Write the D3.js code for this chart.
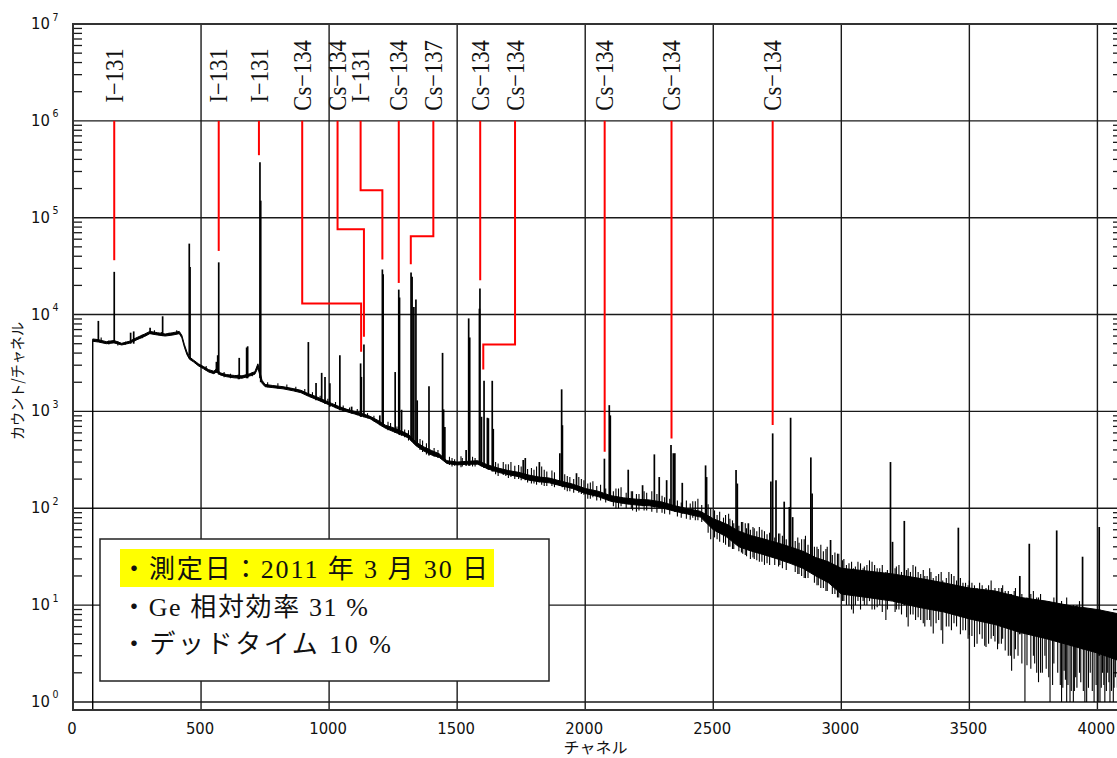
<!DOCTYPE html>
<html>
<head>
<meta charset="utf-8">
<script src="https://cdn.jsdelivr.net/npm/d3@7"></script>
<style>
  html, body { margin: 0; padding: 0; background: #fff; }
  svg { display: block; }
</style>
</head>
<body>
<svg id="chart" width="1117" height="758"></svg>
<script>
// ---------------- DATA ----------------
const xTickValues = [0, 500, 1000, 1500, 2000, 2500, 3000, 3500, 4000];
const yDecadeExponents = [0, 1, 2, 3, 4, 5, 6, 7];
const channelMax = 4096;
const countMin = 0.826;   // axis floor (just below 10^0)
const countMax = 1e7;

const xTitle = "チャネル";
const yTitle = "カウント/チャネル";

// continuum (background) envelope: channel, upper, lower counts
const continuumChannels = [77, 100, 130, 160, 190, 220, 250, 280, 300, 330, 360, 390, 415, 425, 435, 445, 455, 470, 490, 510,
  530, 550, 560, 575, 600, 630, 660, 690, 710, 722, 738, 750, 780, 820, 860, 890, 920, 950, 980, 1010,
  1040, 1070, 1100, 1130, 1160, 1190, 1220, 1250, 1280, 1310, 1340, 1370, 1400, 1430, 1460, 1500, 1540, 1580, 1620, 1660,
  1700, 1740, 1780, 1820, 1860, 1900, 1950, 2000, 2050, 2100, 2150, 2200, 2250, 2300, 2350, 2400, 2450, 2500, 2550, 2600,
  2650, 2700, 2750, 2800, 2850, 2900, 2950, 3000, 3100, 3200, 3300, 3400, 3500, 3600, 3700, 3800, 3900, 4000, 4096];
const continuumHigh = [5600, 5500, 5250, 5400, 5050, 5300, 5800, 6300, 6700, 6500, 6300, 6500, 6700, 6100, 4900, 4100, 3650, 3400, 3100, 2900,
  2700, 2600, 2750, 2500, 2400, 2350, 2330, 2450, 2570, 3100, 2100, 1900, 1850, 1800, 1720, 1650, 1520, 1420, 1310, 1210,
  1120, 1050, 1000, 950, 890, 810, 720, 680, 630, 580, 480, 430, 395, 365, 310, 300, 305, 310, 280, 260,
  245, 235, 220, 210, 205, 192, 178, 160, 150, 135, 128, 124, 122, 116, 106, 99, 93, 78, 69, 58,
  52, 48, 44, 40, 36, 31, 28, 24, 22.5, 21, 19, 17, 15, 14, 12, 11, 9.8, 9, 8];
const continuumLow = [5300, 5200, 5000, 5100, 4850, 5050, 5500, 5950, 6350, 6150, 6000, 6150, 6350, 5750, 4600, 3850, 3450, 3250, 2950, 2750,
  2550, 2450, 2550, 2380, 2280, 2220, 2200, 2320, 2420, 2800, 1950, 1800, 1760, 1710, 1630, 1560, 1430, 1330, 1230, 1140,
  1050, 990, 940, 890, 840, 750, 670, 620, 580, 530, 440, 390, 355, 335, 290, 280, 285, 285, 255, 235,
  222, 212, 195, 188, 183, 172, 160, 142, 132, 118, 112, 108, 106, 101, 93, 87, 81, 60, 51, 40,
  36, 33, 30, 27, 24, 20, 17, 13, 12, 11, 9.5, 8.5, 7.2, 6.3, 5.2, 4.5, 3.8, 3.2, 2.6];

// first filled channel of the spectrum: channel, counts
const spectrumStart = [77, 5400];

// photo peaks: channel, top counts, foot counts
const peaks = [
  [99, 8600, 5300], [161, 27600, 5100], [225, 6500, 5000], [237, 6700, 5000], [301, 7300, 6300], [350, 9600, 6000],
  [454, 54000, 3800], [457, 31000, 3500], [560, 3250, 2500], [565, 3800, 2500], [569, 34600, 2400], [649, 3570, 2150],
  [678, 4570, 2200], [682, 4700, 2200], [730, 374000, 2200], [733, 150000, 2000], [919, 5200, 1450], [949, 1970, 1300],
  [971, 2500, 1250], [984, 2270, 1200], [1003, 1950, 1120], [1042, 3800, 1030], [1088, 1120, 950], [1123, 3130, 880],
  [1126, 2270, 880], [1136, 4900, 870], [1198, 910, 720], [1208, 29200, 700], [1211, 26000, 690], [1258, 2550, 600],
  [1272, 18100, 580], [1275, 15000, 570], [1283, 1040, 560], [1320, 27200, 500], [1324, 24500, 490], [1331, 12000, 470],
  [1339, 14300, 460], [1344, 1300, 440], [1390, 1820, 350], [1443, 4020, 330], [1447, 1050, 320], [1452, 690, 310],
  [1535, 400, 275], [1545, 9130, 275], [1549, 5800, 275], [1587, 11500, 280], [1589, 18600, 280], [1595, 880, 270],
  [1605, 2070, 260], [1618, 860, 255], [1622, 850, 250], [1637, 2070, 240], [1641, 660, 240], [1758, 315, 200],
  [1766, 330, 195], [1821, 300, 185], [1901, 370, 170], [1908, 1690, 170], [1911, 720, 165], [1966, 230, 155],
  [2075, 325, 130], [2094, 1160, 125], [2098, 910, 125], [2168, 250, 110], [2224, 173, 105], [2270, 360, 102],
  [2289, 210, 100], [2318, 195, 98], [2335, 450, 96], [2344, 370, 94], [2350, 370, 92], [2379, 183, 88],
  [2470, 277, 78], [2474, 210, 76], [2589, 248, 44], [2594, 180, 43], [2637, 70, 37], [2725, 189, 33],
  [2732, 593, 33], [2745, 195, 32], [2777, 117, 30], [2797, 103, 29], [2802, 860, 28], [2810, 81, 28],
  [2881, 335, 22], [2886, 142, 22], [2958, 47, 18], [3192, 300, 12], [3200, 45, 12], [3246, 74, 10],
  [3457, 63, 8], [3697, 20, 5], [3734, 43, 5], [3841, 59, 4.3], [3942, 31.6, 3.5], [4007, 64, 3]
];

// statistical scatter of the continuum: channel, upper counts, lower counts
const noise = [
  [110, 5800, 5150], [140, 5400, 4900], [175, 5300, 4800], [205, 5250, 4900], [240, 5700, 5300], [270, 6200, 5700],
  [318, 6900, 6200], [345, 6600, 6000], [375, 6500, 6000], [405, 6900, 6300], [520, 2950, 2650], [590, 2550, 2250],
  [615, 2450, 2200], [645, 2400, 2150], [700, 2550, 2300],
  [760, 2000, 1780], [800, 1950, 1720], [835, 1900, 1680], [870, 1800, 1600], [905, 1700, 1500], [935, 1580, 1400],
  [965, 1450, 1290], [995, 1350, 1200], [1025, 1250, 1080], [1055, 1150, 1000], [1080, 1100, 960], [1110, 1060, 910],
  [1150, 960, 850], [1175, 900, 790], [1230, 780, 640], [1240, 760, 650], [1265, 700, 590], [1295, 650, 540],
  [1310, 640, 500], [1355, 520, 400], [1365, 500, 380], [1380, 470, 360], [1410, 420, 340], [1425, 400, 330],
  [1470, 340, 280], [1480, 330, 270], [1490, 320, 275], [1515, 345, 265], [1520, 330, 270], [1560, 340, 270],
  [1570, 330, 270], [1650, 300, 225], [1660, 290, 215], [1680, 300, 220], [1690, 285, 215], [1700, 285, 205],
  [1710, 300, 210], [1725, 275, 200], [1740, 280, 200], [1750, 270, 195], [1775, 255, 185], [1790, 260, 180],
  [1800, 250, 180], [1810, 270, 175], [1830, 270, 175], [1840, 250, 170], [1850, 240, 170], [1870, 245, 170],
  [1880, 235, 165], [1920, 225, 155], [1930, 215, 150], [1940, 210, 150], [1955, 200, 145], [1975, 210, 145],
  [1985, 200, 140], [1995, 195, 138], [2010, 180, 125], [2020, 185, 125], [2030, 190, 130], [2045, 170, 120],
  [2060, 175, 120], [2080, 160, 115], [2110, 150, 105], [2120, 160, 100], [2130, 160, 100], [2140, 165, 105],
  [2160, 145, 100], [2180, 150, 98], [2185, 150, 95], [2200, 140, 92], [2210, 140, 95], [2230, 150, 95],
  [2240, 145, 95], [2260, 150, 92], [2280, 140, 90], [2300, 135, 90], [2310, 130, 88], [2330, 125, 86],
  [2360, 120, 82], [2375, 115, 80], [2395, 120, 78], [2410, 112, 76], [2420, 118, 80], [2430, 118, 75],
  [2440, 125, 75], [2455, 108, 72], [2480, 110, 56], [2490, 100, 48], [2505, 95, 50], [2515, 85, 48],
  [2525, 92, 45], [2540, 80, 44], [2548, 85, 42], [2560, 88, 40], [2565, 78, 40], [2575, 75, 38],
  [2580, 70, 38], [2600, 66, 36], [2610, 72, 35], [2615, 72, 34], [2625, 70, 33], [2630, 62, 32],
  [2645, 60, 30], [2655, 64, 31], [2660, 62, 30], [2670, 58, 29], [2680, 64, 28], [2690, 60, 28],
  [2700, 58, 26], [2710, 54, 27], [2720, 56, 26], [2740, 50, 26], [2755, 55, 25], [2760, 55, 26],
  [2770, 52, 24], [2785, 48, 23], [2820, 46, 22], [2830, 50, 21], [2835, 44, 21], [2845, 48, 20],
  [2855, 48, 19], [2860, 52, 19], [2870, 42, 19], [2895, 40, 17], [2905, 40, 16], [2910, 38, 16],
  [2920, 42, 15], [2930, 36, 15], [2940, 38, 14], [2945, 40, 14], [2965, 33, 13], [2975, 35, 13],
  [2985, 34, 12], [2990, 34, 12], [3005, 29, 11], [3010, 30, 11], [3020, 26, 10], [3030, 27, 10],
  [3040, 28, 9], [3047, 24, 8.2], [3055, 25, 10], [3065, 28, 11], [3075, 27, 9], [3085, 24, 11],
  [3090, 25, 10], [3100, 26, 10], [3110, 29, 11], [3120, 28, 9], [3130, 26, 9], [3140, 24, 9.5],
  [3150, 24, 10], [3160, 26, 8.5], [3174, 22, 7], [3180, 23, 9], [3210, 24, 8.5], [3215, 25, 9],
  [3225, 26, 9], [3235, 22, 8], [3255, 23, 7.5], [3261, 24, 6], [3270, 22, 8], [3280, 26, 8],
  [3290, 25, 7], [3300, 22, 7.5], [3310, 21, 7], [3320, 23, 6.5], [3326, 20, 6], [3335, 20, 7],
  [3345, 24, 7], [3350, 22, 6], [3359, 19, 5.1], [3370, 20, 6.5], [3380, 21, 7], [3390, 22, 5.5],
  [3396, 18, 4], [3410, 19, 6], [3420, 22, 6], [3430, 21, 5.5], [3440, 20, 6.5], [3450, 18, 6],
  [3465, 19, 5], [3475, 17, 5.5], [3485, 17, 5.5], [3495, 16, 4.5], [3500, 18, 4.9], [3510, 17, 4.8],
  [3520, 16, 3.7], [3530, 15, 4], [3540, 17, 5], [3550, 16, 4.5], [3560, 14, 3.8], [3565, 15, 3.7],
  [3575, 16, 4], [3585, 18, 4.5], [3594, 14, 4.8], [3600, 15, 4.2], [3610, 13, 3.5], [3615, 15, 4],
  [3625, 15, 4], [3630, 16, 4.5], [3640, 14, 3.4], [3652, 14, 3], [3660, 13, 3], [3665, 13, 2.1],
  [3675, 14, 2.8], [3680, 15, 3.5], [3690, 12, 3], [3705, 13, 2.5], [3717, 11, 1], [3725, 12, 2.4],
  [3740, 13, 2.2], [3750, 14, 3], [3755, 11, 2.5], [3763, 12, 2], [3770, 12, 1.6], [3778, 13, 2],
  [3785, 11, 2], [3795, 11, 3], [3800, 10, 2.2], [3810, 11, 1.8], [3815, 10, 1], [3825, 10, 1.5],
  [3830, 12, 2.5], [3845, 10, 2], [3855, 9, 1.5], [3860, 11, 1], [3865, 10, 1.4], [3870, 10, 2.1],
  [3875, 9, 1.7], [3880, 12, 1], [3885, 10, 1.5], [3893, 9, 1], [3898, 8.5, 1.3], [3906, 10, 1],
  [3910, 9, 1.3], [3915, 9, 1.8], [3920, 10, 1.4], [3930, 11, 2], [3935, 8, 1.6], [3945, 9, 1.3],
  [3951, 9, 1], [3958, 8.5, 1], [3965, 8, 1.4], [3972, 9, 2], [3980, 8.5, 1.3], [3987, 8, 1],
  [3995, 7.5, 1.5], [4003, 8, 1], [4010, 9, 1], [4015, 8, 1.4], [4020, 8, 2], [4025, 7, 1.5],
  [4029, 7, 1], [4035, 7.5, 1.3], [4040, 8, 2], [4045, 7, 1.6], [4049, 7, 1], [4055, 6.5, 1.3],
  [4062, 7, 1], [4065, 7, 1.4], [4070, 8, 1.8], [4078, 6.5, 1.4], [4085, 7, 1], [4090, 6, 1.2], [4093, 6.5, 1.5]
];

// nuclide identification labels and their leader lines
const nuclideNames = ["I−131", "I−131", "I−131", "Cs−134", "Cs−134", "I−131", "Cs−134", "Cs−137", "Cs−134", "Cs−134", "Cs−134", "Cs−134", "Cs−134"];
const nuclideChannels = [161, 569, 726, 895, 1033, 1123, 1272, 1407, 1590, 1726, 2076, 2337, 2732];
const leaderStartCount = 1e6;
const leaderElbowCounts = [null, null, null, 13000, 76000, 192000, null, 64400, null, 4910, null, null, null];
const leaderTargetChannels = [161, 569, 726, 1125, 1136, 1208, 1272, 1319, 1590, 1602, 2076, 2337, 2732];
const leaderEndCounts = [36400, 45400, 442000, 4120, 5890, 37000, 21200, 33100, 22600, 2710, 383, 526, 722];

const legendLines = ["・測定日：2011 年 3 月 30 日", "・Ge 相対効率 31 %", "・デッドタイム 10 %"];
const highlightedLine = 0;

// ---------------- LAYOUT ----------------
const margin = { left: 73, top: 24 };
const innerW = 1049, innerH = 686;
const narrowFont = "'Liberation Sans Narrow', 'DejaVu Sans Condensed', 'Arial Narrow', sans-serif";
const serifFont = "'Liberation Serif', 'DejaVu Serif', 'Noto Sans CJK JP', serif";
const legendFont = "'Liberation Serif', 'Noto Sans CJK JP', serif";
const cjkFont = "'Noto Sans CJK JP', sans-serif";

const svg = d3.select("#chart");
const x = d3.scaleLinear().domain([0, channelMax]).range([0, innerW]);
const y = d3.scaleLog().domain([countMin, countMax]).range([innerH, 0]);

svg.append("defs").append("clipPath").attr("id", "plotClip")
  .append("rect").attr("width", innerW).attr("height", innerH);

const g = svg.append("g").attr("transform", `translate(${margin.left},${margin.top})`);

// grid
const grid = g.append("g").attr("stroke", "#1a1a1a").attr("stroke-width", 1.4);
grid.selectAll("line.v").data(xTickValues.filter(v => v > 0)).join("line")
  .attr("class", "v")
  .attr("x1", d => x(d)).attr("x2", d => x(d)).attr("y1", 0).attr("y2", innerH);
grid.selectAll("line.h").data(yDecadeExponents.filter(e => e < 7)).join("line")
  .attr("class", "h")
  .attr("y1", e => y(Math.pow(10, e))).attr("y2", e => y(Math.pow(10, e))).attr("x1", 0).attr("x2", innerW);

// minor ticks (left and right, pointing inward)
const minorVals = [];
yDecadeExponents.filter(e => e < 7).forEach(e => { for (let k = 2; k <= 9; k++) minorVals.push(k * Math.pow(10, e)); });
const ticks = g.append("g").attr("stroke", "#1a1a1a").attr("stroke-width", 1.3);
ticks.selectAll("line.l").data(minorVals).join("line").attr("class", "l")
  .attr("x1", 0).attr("x2", 9).attr("y1", d => y(d)).attr("y2", d => y(d));
ticks.selectAll("line.r").data(minorVals).join("line").attr("class", "r")
  .attr("x1", innerW).attr("x2", innerW - 9).attr("y1", d => y(d)).attr("y2", d => y(d));

// spectrum
const spec = g.append("g").attr("clip-path", "url(#plotClip)");
const band = continuumChannels.map((c, i) => ({ c, hi: continuumHigh[i], lo: continuumLow[i] }));
spec.append("path").datum(band)
  .attr("d", d3.area().x(d => x(d.c)).y0(d => y(d.lo)).y1(d => y(d.hi)))
  .attr("fill", "#000").attr("stroke", "#000").attr("stroke-width", 1).attr("stroke-linejoin", "round");
spec.append("line")
  .attr("x1", x(spectrumStart[0])).attr("x2", x(spectrumStart[0]))
  .attr("y1", y(spectrumStart[1])).attr("y2", innerH)
  .attr("stroke", "#000").attr("stroke-width", 1.4);
spec.selectAll("line.noise").data(noise).join("line").attr("class", "noise")
  .attr("x1", d => x(d[0])).attr("x2", d => x(d[0]))
  .attr("y1", d => y(d[1])).attr("y2", d => y(d[2]))
  .attr("stroke", "#000").attr("stroke-width", 1.1);
spec.selectAll("line.peak").data(peaks).join("line").attr("class", "peak")
  .attr("x1", d => x(d[0])).attr("x2", d => x(d[0]))
  .attr("y1", d => y(d[1])).attr("y2", d => y(d[2]))
  .attr("stroke", "#000").attr("stroke-width", 1.7);

// leader lines
const leaders = g.append("g").attr("fill", "none").attr("stroke", "#ff0000").attr("stroke-width", 2);
nuclideChannels.forEach((ch, i) => {
  const p = d3.path();
  p.moveTo(x(ch), y(leaderStartCount));
  if (leaderElbowCounts[i] !== null) {
    p.lineTo(x(ch), y(leaderElbowCounts[i]));
    p.lineTo(x(leaderTargetChannels[i]), y(leaderElbowCounts[i]));
  }
  p.lineTo(x(leaderTargetChannels[i]), y(leaderEndCounts[i]));
  leaders.append("path").attr("d", p.toString());
});

// nuclide labels
const labelMid = (y(countMax) + y(leaderStartCount)) / 2 + 3;
g.append("g").selectAll("text").data(nuclideNames).join("text")
  .attr("transform", (d, i) => `translate(${x(nuclideChannels[i])},${labelMid}) rotate(-90) scale(0.87,1)`)
  .attr("text-anchor", "middle").attr("dy", "0.33em")
  .attr("font-family", serifFont).attr("font-size", 26).attr("fill", "#111")
  .text(d => d);

// border
g.append("rect").attr("width", innerW).attr("height", innerH)
  .attr("fill", "none").attr("stroke", "#333").attr("stroke-width", 2);

// x tick labels
g.append("g").selectAll("text").data(xTickValues).join("text")
  .attr("x", d => x(d) - 1).attr("y", innerH + 24)
  .attr("text-anchor", "middle").attr("font-family", narrowFont).attr("font-size", 16.5).attr("fill", "#111")
  .text(d => d);

// y tick labels 10^n
const yl = g.append("g").attr("font-family", narrowFont).attr("fill", "#111");
yl.selectAll("text.base").data(yDecadeExponents).join("text").attr("class", "base")
  .attr("x", -23).attr("y", e => y(Math.pow(10, e)) + 5)
  .attr("text-anchor", "end").attr("font-size", 16.5).text("10");
yl.selectAll("text.exp").data(yDecadeExponents).join("text").attr("class", "exp")
  .attr("x", -20.5).attr("y", e => y(Math.pow(10, e)) - 3.5)
  .attr("text-anchor", "start").attr("font-size", 10.5).text(e => e);

// axis titles
svg.append("text")
  .attr("x", margin.left + innerW / 2 - 2).attr("y", 753)
  .attr("text-anchor", "middle").attr("font-family", cjkFont).attr("font-size", 15)
  .attr("textLength", 64).attr("lengthAdjust", "spacingAndGlyphs").attr("fill", "#111")
  .text(xTitle);
svg.append("text")
  .attr("transform", `translate(18,381) rotate(-90)`)
  .attr("text-anchor", "middle").attr("dy", "0.35em").attr("font-family", cjkFont).attr("font-size", 15)
  .attr("textLength", 118).attr("lengthAdjust", "spacingAndGlyphs").attr("fill", "#111")
  .text(yTitle);

// legend box
const legendW = 449, legendH = 142;
const lg = svg.append("g").attr("transform", `translate(${margin.left + 27},${margin.top + 515})`);
lg.append("rect").attr("width", legendW).attr("height", legendH)
  .attr("fill", "#fff").attr("stroke", "#222").attr("stroke-width", 1.5);
lg.append("rect").attr("x", 20).attr("y", 10).attr("width", 374).attr("height", 38).attr("fill", "#ffff00")
  .attr("opacity", highlightedLine === 0 ? 1 : 0);
const legendWidths = [367, 247, 270];
lg.selectAll("text").data(legendLines).join("text")
  .attr("x", 21).attr("y", (d, i) => 39 + i * 37.5)
  .attr("font-family", legendFont).attr("font-size", 26).attr("fill", "#111")
  .attr("textLength", (d, i) => legendWidths[i]).attr("lengthAdjust", "spacing")
  .text(d => d);
</script>
</body>
</html>
